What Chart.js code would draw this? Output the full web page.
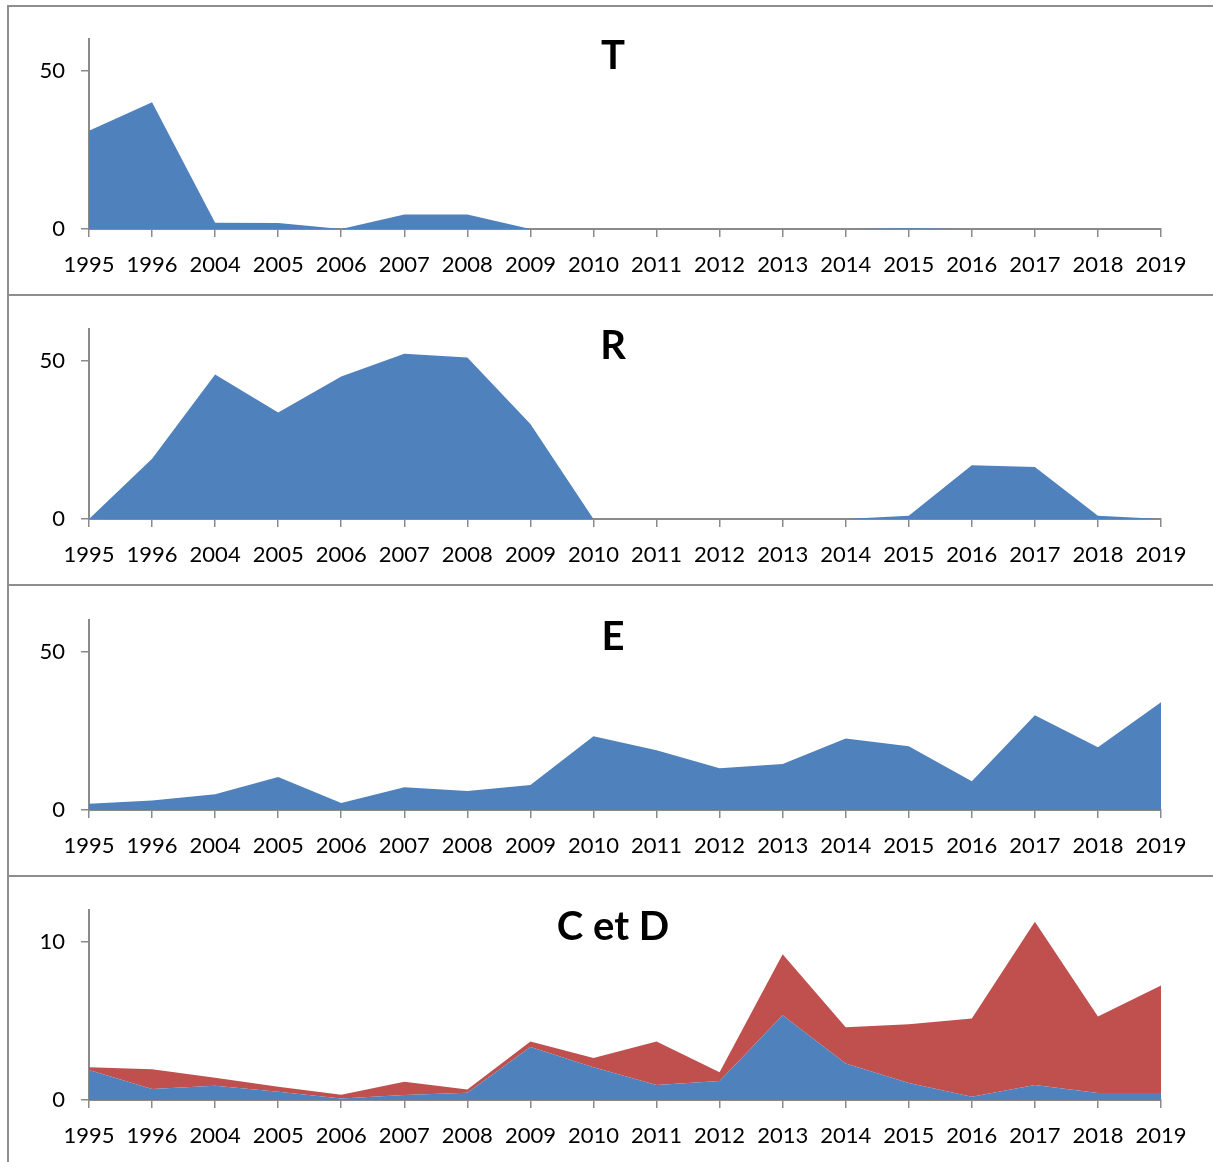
<!DOCTYPE html>
<html><head><meta charset="utf-8">
<script src="https://cdn.jsdelivr.net/npm/chart.js@4"></script>
<style>
html,body{margin:0;padding:0;background:#fff;overflow:hidden;width:1213px;height:1162px;position:relative;}
canvas{position:absolute;left:0;}
.line{position:absolute;background:#8e8e8e;}
</style></head><body>
<div class="line" style="left:7px;top:5px;width:1206px;height:2px"></div>
<div class="line" style="left:7px;top:294px;width:1206px;height:2px"></div>
<div class="line" style="left:7px;top:584px;width:1206px;height:2px"></div>
<div class="line" style="left:7px;top:875px;width:1206px;height:2px"></div>
<div class="line" style="left:7px;top:5px;width:2px;height:1157px"></div>
<canvas id="c1" width="1226" height="290" style="top:5px"></canvas>
<canvas id="c2" width="1226" height="290" style="top:295px"></canvas>
<canvas id="c3" width="1226" height="290" style="top:586px"></canvas>
<canvas id="c4" width="1226" height="290" style="top:876px"></canvas>
<script>
const years = ['1995','1996','2004','2005','2006','2007','2008','2009','2010','2011','2012','2013','2014','2015','2016','2017','2018','2019'];
const tValues = [31, 40, 2, 1.9, 0, 4.6, 4.6, 0, 0, 0, 0, 0, 0, 0.2, 0, 0, 0, 0];
const rValues = [0, 19, 45.6, 33.6, 45, 52.2, 51, 30, 0, 0, 0, 0, 0, 1, 17, 16.4, 1, 0];
const eValues = [2, 3, 5, 10.4, 2.2, 7.2, 6, 7.9, 23.3, 18.9, 13.2, 14.5, 22.6, 20.1, 9.1, 29.9, 19.8, 34];
const cValues = [1.9, 0.7, 0.9, 0.52, 0.1, 0.31, 0.46, 3.35, 2.07, 0.94, 1.2, 5.35, 2.3, 1.07, 0.2, 0.94, 0.44, 0.44];
const dValues = [0.17, 1.25, 0.5, 0.32, 0.23, 0.84, 0.21, 0.35, 0.58, 2.76, 0.56, 3.85, 2.3, 3.71, 4.95, 10.32, 4.84, 6.79];
const yTicksBig = [0, 50];
const yTicksSmall = [0, 10];
const yMaxBig = 60;
const yMaxSmall = 12;

const BLUE = '#4F81BD', RED = '#C0504D', AXIS = '#8a8a8a';
const tickFont = {family: 'Lato', size: 22};

function ds(label, data, color, fill) {
  return {label, data, backgroundColor: color, borderColor: 'rgba(0,0,0,0)', borderWidth: 0,
          fill, pointRadius: 0, tension: 0, yAxisID: 'y'};
}

function makeChart(id, title, datasets, yTicks, yMax) {
  new Chart(document.getElementById(id), {
    type: 'line',
    data: {labels: years, datasets},
    options: {
      responsive: false, animation: false,
      layout: {padding: {top: 0, right: 0, bottom: 0, left: 0}},
      plugins: {
        legend: {display: false}, tooltip: {enabled: false},
        title: {display: true, text: title, color: '#000',
                font: {family: 'Lato', size: 40, weight: 'bold', lineHeight: 1},
                padding: {top: 31, bottom: -37}}
      },
      scales: {
        x: {type: 'category', offset: false,
            grid: {drawOnChartArea: false, drawTicks: true, tickLength: 8, color: AXIS, lineWidth: 1.5},
            border: {color: AXIS, width: 2},
            ticks: {font: tickFont, color: '#000', padding: 15, maxRotation: 0, autoSkip: false},
            afterFit(s) { s.height = 66; }},
        y: {min: 0, max: yMax, stacked: true, position: 'left',
            grid: {drawOnChartArea: false, drawTicks: true, tickLength: 8, color: AXIS, lineWidth: 1.5},
            border: {color: AXIS, width: 2},
            ticks: {font: tickFont, color: '#000', padding: 16},
            afterBuildTicks(s) { s.ticks = yTicks.map(v => ({value: v})); },
            afterFit(s) { s.width = 89; }},
        yPad: {type: 'linear', position: 'right', display: true,
               grid: {display: false}, border: {display: false}, ticks: {display: false},
               afterFit(s) { s.width = 65; }}
      }
    }
  });
}

makeChart('c1', 'T', [ds('T', tValues, BLUE, 'origin')], yTicksBig, yMaxBig);
makeChart('c2', 'R', [ds('R', rValues, BLUE, 'origin')], yTicksBig, yMaxBig);
makeChart('c3', 'E', [ds('E', eValues, BLUE, 'origin')], yTicksBig, yMaxBig);
makeChart('c4', 'C et D', [ds('C', cValues, BLUE, 'origin'), ds('D', dValues, RED, '-1')], yTicksSmall, yMaxSmall);
</script>
</body></html>
